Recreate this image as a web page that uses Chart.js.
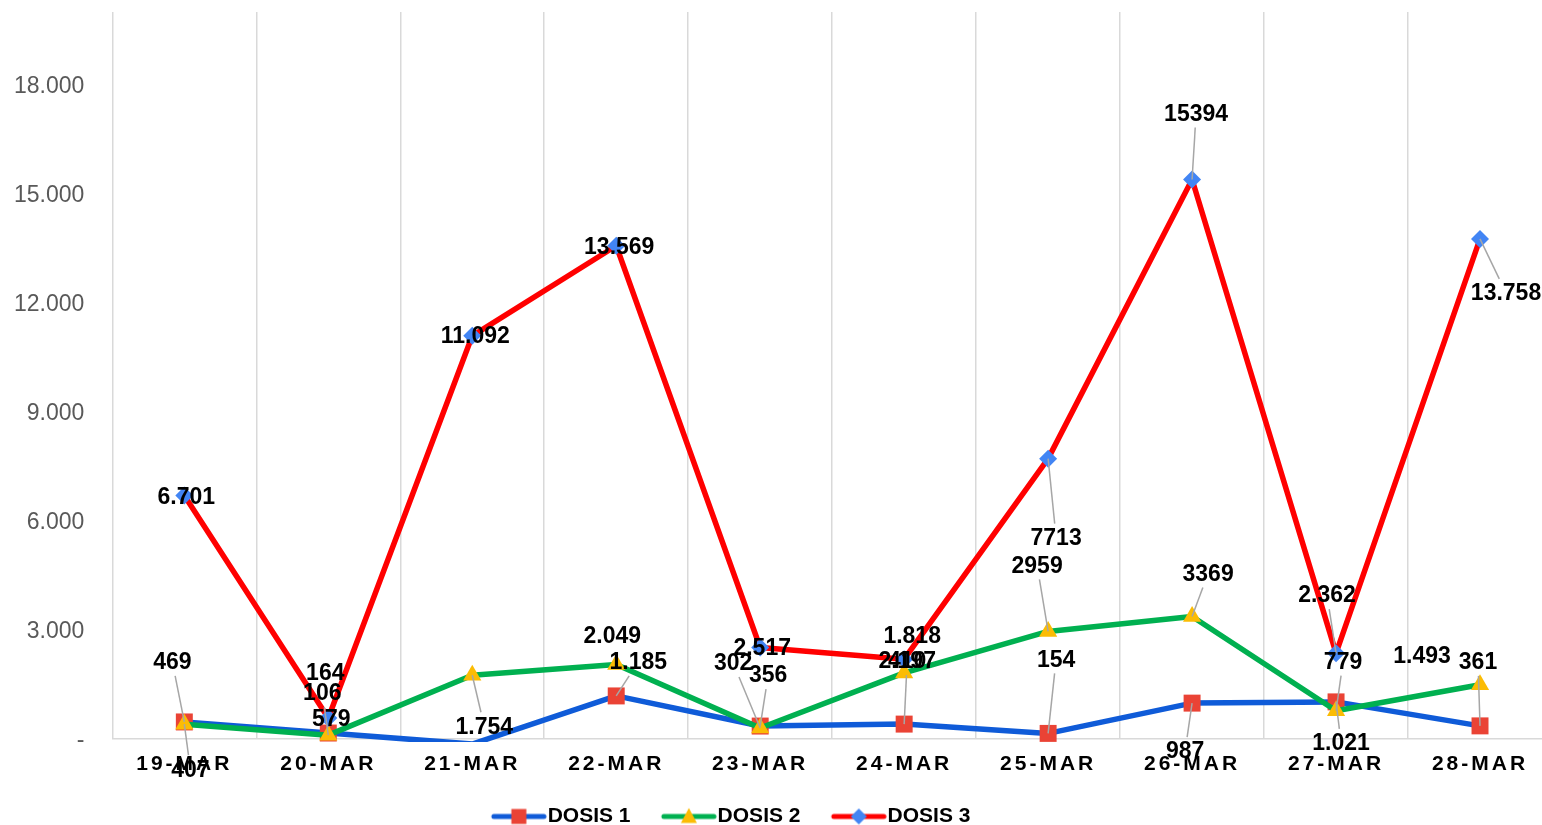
<!DOCTYPE html>
<html>
<head>
<meta charset="utf-8">
<script src="https://cdn.jsdelivr.net/npm/chart.js@4.4.0/dist/chart.umd.min.js"></script>
<style>
html,body{margin:0;padding:0;overflow:hidden;background:#fff;width:1542px;height:825px}
canvas{display:block}
</style>
</head>
<body>
<canvas id="c" width="1564" height="841"></canvas>
<script>
// ---- data ----
const categories = ['19-MAR','20-MAR','21-MAR','22-MAR','23-MAR','24-MAR','25-MAR','26-MAR','27-MAR','28-MAR'];
const seriesNames = ['DOSIS 1','DOSIS 2','DOSIS 3'];
const dosis1 = [469, 164, -140, 1185, 356, 410, 154, 987, 1021, 361];
const dosis2 = [407, 106, 1754, 2049, 302, 1818, 2959, 3369, 779, 1493];
const dosis3 = [6701, 579, 11092, 13569, 2517, 2197, 7713, 15394, 2362, 13758];
const yTickValues = [0, 3000, 6000, 9000, 12000, 15000, 18000];
const yMax = 20000;

// data label texts as printed on the chart
const labels1 = ['469','164','','1.185','356','410','154','987','1.021','361'];
const labels2 = ['407','106','1.754','2.049','302','1.818','2959','3369','779','1.493'];
const labels3 = ['6.701','579','11.092','13.569','2.517','2.197','7713','15394','2.362','13.758'];

// label placement: [dx, dy, leader line]
const place1 = [[-12,-60,1],[-3,-60,0],[0,0,0],[22,-34,1],[8,-51,1],[3,-63,1],[8,-74,1],[-7,48,1],[5,41,1],[-2,-64,1]];
const place2 = [[6,45,1],[-6,-42,1],[12,51,1],[-4,-29,0],[-27,-65,1],[8,-37,0],[-11,-66,1],[16,-43,1],[7,-49,1],[-58,-29,0]];
const place3 = [[2,1,0],[3,1,0],[3,0,0],[3,1,0],[2,0,0],[3,2,0],[8,79,1],[4,-66,1],[-9,-58,1],[26,54,1]];

// ---- styles ----
const lineColors = ['#0f5bd8','#00b050','#ff0000'];
const markerColors = ['#ea4335','#fbbc04','#4285f4'];
const markerShapes = ['rect','triangle','rectRot'];
const markerRadius = [12, 10.5, 9];
const FONT = '"Liberation Sans", Arial, Helvetica, sans-serif';
Chart.defaults.font.family = FONT;

function fmt(v){ return v === 0 ? '-' : String(v).replace(/\B(?=(\d{3})+(?!\d))/g, '.'); }

function legendIcon(i){
  const c = document.createElement('canvas');
  c.width = 86; c.height = 24;
  const g = c.getContext('2d');
  g.strokeStyle = lineColors[i]; g.lineWidth = 5; g.lineCap = 'round';
  g.beginPath(); g.moveTo(33, 12); g.lineTo(83, 12); g.stroke();
  g.fillStyle = markerColors[i];
  const cx = 58, cy = 12;
  g.beginPath();
  if (i === 0) { g.rect(cx - 7.5, cy - 7.5, 15, 15); }
  else if (i === 1) { g.moveTo(cx, cy - 8.5); g.lineTo(cx + 8, cy + 6.5); g.lineTo(cx - 8, cy + 6.5); g.closePath(); }
  else { g.moveTo(cx, cy - 8); g.lineTo(cx + 8, cy); g.lineTo(cx, cy + 8); g.lineTo(cx - 8, cy); g.closePath(); }
  g.fill();
  return c;
}
const legendIcons = [0,1,2].map(legendIcon);

const seriesValues = [dosis1, dosis2, dosis3];
const seriesLabels = [labels1, labels2, labels3];
const seriesPlace = [place1, place2, place3];

const datasets = seriesValues.map((vals, i) => ({
  label: seriesNames[i],
  data: vals,
  borderColor: lineColors[i],
  backgroundColor: markerColors[i],
  borderWidth: 5.5,
  tension: 0,
  borderJoinStyle: 'round',
  borderCapStyle: 'round',
  pointStyle: markerShapes[i],
  pointRadius: (ctx) => (ctx.raw < 0 ? 0 : markerRadius[i]),
  pointHoverRadius: markerRadius[i],
  pointBackgroundColor: markerColors[i],
  pointBorderWidth: 0,
  pointHoverBorderWidth: 0,
  order: 3 - i,
  clip: i === 0 ? {left: false, top: false, right: false, bottom: 3} : false
}));

const dataLabelPlugin = {
  id: 'dataLabels',
  afterDatasetsDraw(chart) {
    const ctx = chart.ctx;
    ctx.save();
    ctx.font = 'bold 23px ' + FONT;
    ctx.textAlign = 'center';
    ctx.textBaseline = 'middle';
    ctx.strokeStyle = '#a6a6a6';
    ctx.lineWidth = 1.5;
    seriesLabels.forEach((texts, di) => {
      const meta = chart.getDatasetMeta(di);
      texts.forEach((t, i) => {
        if (!t) return;
        const p = seriesPlace[di][i];
        if (!p[2]) return;
        const el = meta.data[i];
        const lx = el.x + p[0], ly = el.y + p[1];
        const hw = ctx.measureText(t).width / 2 + 3, hh = 14;
        const vx = el.x - lx, vy = el.y - ly;
        const tx = Math.abs(vx) > 0.01 ? hw / Math.abs(vx) : Infinity;
        const ty = Math.abs(vy) > 0.01 ? hh / Math.abs(vy) : Infinity;
        const tt = Math.min(tx, ty);
        if (tt >= 1) return;
        ctx.beginPath();
        ctx.moveTo(lx + vx * tt, ly + vy * tt);
        ctx.lineTo(el.x, el.y);
        ctx.stroke();
      });
    });
    ctx.fillStyle = '#000';
    seriesLabels.forEach((texts, di) => {
      const meta = chart.getDatasetMeta(di);
      texts.forEach((t, i) => {
        if (!t) return;
        const p = seriesPlace[di][i];
        const el = meta.data[i];
        ctx.fillText(t, el.x + p[0], el.y + p[1] + 1);
      });
    });
    ctx.restore();
  }
};

const spacingPlugin = {
  id: 'xSpacing',
  beforeDraw(chart) {
    const xs = chart.scales.x;
    if (xs && !xs.__spaced) {
      const orig = xs.drawLabels;
      xs.drawLabels = function(area) {
        const c = this.ctx;
        const prev = c.letterSpacing;
        c.letterSpacing = '3px';
        orig.call(this, area);
        c.letterSpacing = prev || '0px';
      };
      xs.__spaced = true;
    }
  }
};

const legendPlacePlugin = {
  id: 'legendPlace',
  afterLayout(chart) {
    const lg = chart.legend;
    if (!lg) return;
    const h = lg.height;
    lg.left = 0; lg.right = 1441; lg.width = 1441;
    lg.top = 796; lg.bottom = 796 + h;
  }
};

new Chart(document.getElementById('c'), {
  type: 'line',
  data: { labels: categories, datasets },
  plugins: [dataLabelPlugin, spacingPlugin, legendPlacePlugin],
  options: {
    responsive: false,
    animation: false,
    devicePixelRatio: 1,
    layout: { padding: { top: 12, left: 14, right: 1, bottom: 10 } },
    interaction: { mode: 'nearest', intersect: true },
    plugins: {
      tooltip: { enabled: false },
      legend: {
        position: 'bottom',
        maxHeight: 41,
        labels: {
          usePointStyle: true,
          pointStyleWidth: 66.6,
          padding: 10,
          color: '#000',
          font: { size: 21, weight: 'bold', lineHeight: 1 },
          generateLabels: (chart) => chart.data.datasets.map((ds, i) => ({
            text: ds.label,
            pointStyle: legendIcons[i],
            datasetIndex: i,
            hidden: false,
            lineWidth: 0,
            fillStyle: 'rgba(0,0,0,0)',
            strokeStyle: 'rgba(0,0,0,0)',
            fontColor: '#000'
          }))
        }
      }
    },
    scales: {
      x: {
        offset: true,
        grid: { display: true, offset: true, color: '#d9d9d9', lineWidth: 1.5, drawTicks: false },
        border: { display: true, color: '#d9d9d9', width: 1.5 },
        ticks: { color: '#000', padding: 15, maxRotation: 0, autoSkip: false,
                 font: { size: 21, weight: 'bold', lineHeight: 1 } }
      },
      y: {
        min: 0,
        max: yMax,
        grid: { display: false, drawTicks: true, tickLength: 28 },
        border: { display: false },
        afterBuildTicks: (scale) => { scale.ticks = yTickValues.map(v => ({ value: v })); },
        ticks: { color: '#595959', padding: 0, labelOffset: 2, font: { size: 23, lineHeight: 1 },
                 callback: (v) => fmt(v) }
      }
    }
  }
});
</script>
</body>
</html>
